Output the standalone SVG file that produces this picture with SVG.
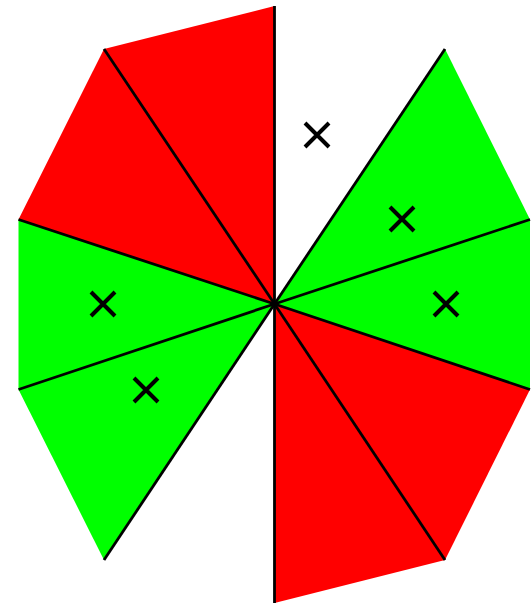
<svg xmlns="http://www.w3.org/2000/svg" width="531" height="604" viewBox="0 0 531 604">
<style>
.red{fill:#ff0000;stroke:none}
.green{fill:#00ff00;stroke:none}
.ray{stroke:#000;stroke-width:2.8;fill:none}
.mark{stroke:#000;stroke-width:4;fill:none}
</style>
<rect width="531" height="604" fill="#fff"/>
<g id="wedges">
<polygon id="w1" class="red" points="274.5,304 274.5,6 104,49"/>
<polygon id="w2" class="red" points="274.5,304 104,49 18.5,219.5"/>
<polygon id="w3" class="green" points="274.5,304 18.5,219.5 18.5,389.5"/>
<polygon id="w4" class="green" points="274.5,304 18.5,389.5 104,560"/>
<polygon id="w6" class="red" points="274.5,304 274.5,603 445,560"/>
<polygon id="w7" class="red" points="274.5,304 445,560 530,389.5"/>
<polygon id="w8" class="green" points="274.5,304 530,389.5 530,219.5"/>
<polygon id="w9" class="green" points="274.5,304 530,219.5 445,49"/>
</g>
<g id="connectors">
<line class="ray" x1="274.5" y1="304" x2="274.5" y2="6"/>
<line class="ray" x1="274.5" y1="304" x2="104" y2="49"/>
<line class="ray" x1="274.5" y1="304" x2="18.5" y2="219.5"/>
<line class="ray" x1="274.5" y1="304" x2="18.5" y2="389.5"/>
<line class="ray" x1="274.5" y1="304" x2="104" y2="560"/>
<line class="ray" x1="274.5" y1="304" x2="274.5" y2="603"/>
<line class="ray" x1="274.5" y1="304" x2="445" y2="560"/>
<line class="ray" x1="274.5" y1="304" x2="530" y2="389.5"/>
<line class="ray" x1="274.5" y1="304" x2="530" y2="219.5"/>
<line class="ray" x1="274.5" y1="304" x2="445" y2="49"/>
</g>
<g id="marks">
<path class="mark" d="M305,123 L329,147 M329,123 L305,147"/>
<path class="mark" d="M390,207 L414,231 M414,207 L390,231"/>
<path class="mark" d="M434,292 L458,316 M458,292 L434,316"/>
<path class="mark" d="M91,292 L115,316 M115,292 L91,316"/>
<path class="mark" d="M134,378 L158,402 M158,378 L134,402"/>
</g>
</svg>
